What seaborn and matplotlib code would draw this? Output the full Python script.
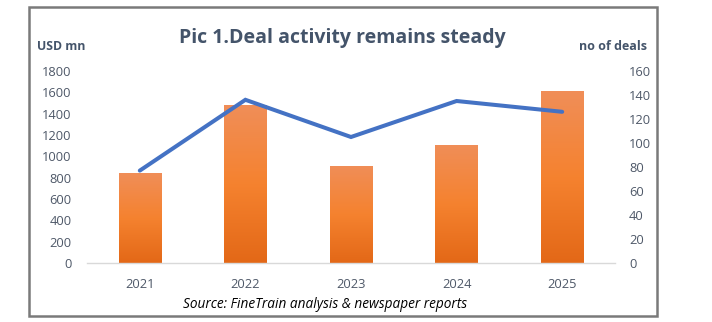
import matplotlib
matplotlib.use('Agg')
import matplotlib.pyplot as plt
import seaborn as sns
import numpy as np
import pandas as pd
from matplotlib.patches import Rectangle
from matplotlib.colors import LinearSegmentedColormap

years = ['2021', '2022', '2023', '2024', '2025']
value_usd_mn = [840, 1480, 910, 1110, 1610]
deal_count = [77, 136, 105, 135, 126]
left_ticks = [0, 200, 400, 600, 800, 1000, 1200, 1400, 1600, 1800]
right_ticks = [0, 20, 40, 60, 80, 100, 120, 140, 160]

sns.set_theme(style='white')
plt.rcParams['font.family'] = ['Open Sans', 'DejaVu Sans']

W, H = 712, 322
fig = plt.figure(figsize=(W / 100, H / 100), dpi=100)
fig.patch.set_facecolor('white')
ax = fig.add_axes([87 / W, 1 - 263 / H, 528 / W, 192 / H])

df = pd.DataFrame({'year': years, 'value': value_usd_mn, 'deals': deal_count})
sns.barplot(data=df, x='year', y='value', ax=ax, color='#F37F2E',
            width=0.4, saturation=1, errorbar=None)

# gradient fill for bars
cmap = LinearSegmentedColormap.from_list('og', ['#E36817', '#F5822F', '#F08E58'])
grad = np.linspace(0, 1, 256).reshape(-1, 1)
for p in ax.patches:
    x0, w, h = p.get_x(), p.get_width(), p.get_height()
    im = ax.imshow(grad, extent=[x0, x0 + w, 0, h], origin='lower',
                   aspect='auto', cmap=cmap, zorder=p.get_zorder() + 0.1)
    im.set_clip_path(p)

ax.set_xlim(-0.5, 4.5)
ax.set_ylim(0, 1800)
ax.set_yticks(left_ticks)
ax.set_xlabel('')
ax.set_ylabel('')
tick_col = '#4E5868'
ax.tick_params(axis='y', length=0, pad=11, labelsize=9.3, labelcolor=tick_col)
ax.tick_params(axis='x', length=0, pad=11, labelsize=9.3, labelcolor=tick_col)
for s in ['top', 'left', 'right']:
    ax.spines[s].set_visible(False)
ax.spines['bottom'].set_color('#D9D9D9')
ax.spines['bottom'].set_linewidth(1.0)

ax2 = ax.twinx()
sns.lineplot(data=df, x='year', y='deals', ax=ax2, color='#4472C4',
             linewidth=2.9, solid_capstyle='round', solid_joinstyle='miter')
ax2.set_xlim(-0.5, 4.5)
ax2.set_ylim(0, 160)
ax2.set_yticks(right_ticks)
ax2.set_ylabel('')
ax2.set_xlabel('')
ax2.tick_params(axis='y', length=0, pad=10, labelsize=9.3, labelcolor=tick_col)
for s in ['top', 'left', 'right', 'bottom']:
    ax2.spines[s].set_visible(False)

title_col = '#44546A'
fig.text(342 / W, 1 - 43 / H, 'Pic 1.Deal activity remains steady', ha='center',
         va='baseline', fontsize=14, fontweight='bold', color=title_col)
fig.text(37 / W, 1 - 47 / H, 'USD mn', ha='left', va='center', fontsize=8.8,
         fontweight='bold', color=title_col)
fig.text(647 / W, 1 - 47 / H, 'no of deals', ha='right', va='center', fontsize=9,
         fontweight='bold', color=title_col)
fig.text(325 / W, 1 - 304 / H, 'Source: FineTrain analysis & newspaper reports',
         ha='center', va='center', fontsize=9.8, fontstyle='italic', color='black')

fig.patches.append(Rectangle((29 / W, 1 - 316 / H), (657 - 29) / W, (316 - 7) / H,
                             transform=fig.transFigure, fill=False,
                             ec='#7A7A7A', lw=1.8, zorder=10))

fig.savefig('out.png', dpi=100)
